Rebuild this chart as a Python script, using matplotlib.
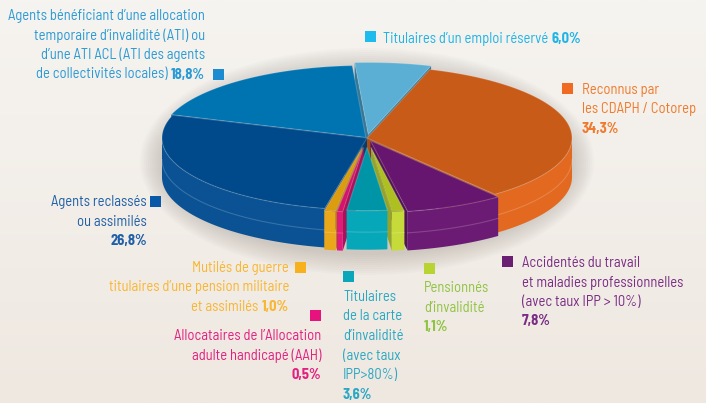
import numpy as np
import matplotlib
matplotlib.use('Agg')
import matplotlib.pyplot as plt
from matplotlib.patches import Polygon, Ellipse, Rectangle
from matplotlib.colors import LinearSegmentedColormap

plt.rcParams['font.family'] = ['Barlow Semi Condensed', 'Barlow Condensed', 'DejaVu Sans']

# data, in clockwise order starting from the top of the pie
categories = [
    "Titulaires d'un emploi réservé",
    "Reconnus par les CDAPH / Cotorep",
    "Accidentés du travail et maladies professionnelles",
    "Pensionnés d'invalidité",
    "Titulaires de la carte d'invalidité",
    "Allocataires de l'AAH",
    "Mutilés de guerre",
    "Agents reclassés ou assimilés",
    "Agents bénéficiant d'une ATI",
]
values = [6.0, 34.3, 7.8, 1.1, 3.6, 0.5, 1.0, 26.8, 18.8]
label_lines = [
    ["Titulaires d’un emploi réservé {p}"],
    ["Reconnus par", "les CDAPH / Cotorep", "{p}"],
    ["Accidentés du travail", "et maladies professionnelles",
     "(avec taux IPP > 10%)", "{p}"],
    ["Pensionnés", "d’invalidité", "{p}"],
    ["Titulaires", "de la carte", "d’invalidité", "(avec taux", "IPP>80%)", "{p}"],
    ["Allocataires de l’Allocation", "adulte handicapé (AAH)", "{p}"],
    ["Mutilés de guerre", "titulaires d’une pension militaire", "et assimilés {p}"],
    ["Agents reclassés", "ou assimilés", "{p}"],
    ["Agents bénéficiant d’une allocation", "temporaire d’invalidité (ATI) ou",
     "d’une ATI ACL (ATI des agents", "de collectivités locales) {p}"],
]
pct_labels = [f"{v:.1f}%".replace('.', ',') for v in values]

# styles
top_colors = ['#5bafd5', '#c95b18', '#67166f', '#aebf22', '#0095a6',
              '#d4136f', '#dc9c10', '#004a8c', '#0073b1']
side_colors = ['#4aa0c8', '#e2691f', '#6c1b74', '#c6da3a', '#06a7b8',
               '#e0197d', '#eaa71a', '#0a5294', '#0a69a6']
text_colors = ['#1eb4e6', '#f07a2c', '#7a2d84', '#8fc442', '#2aa8c2',
               '#e3207f', '#f9b630', '#1f5fa6', '#2a9ad5']
square_colors = ['#1ebbee', '#f06a22', '#6a1f72', '#b8d432', '#0aa6b9',
                 '#e6137f', '#f7b11c', '#0a58a8', '#1b8cd0']
explode = [0.05, 0.0, 0.04, 0.13, 0.13, 0.13, 0.13, 0.0, 0.01]
radius = [1.0, 1.0, 1.0, 0.9, 0.88, 0.9, 0.9, 1.0, 1.0]
# label anchor (x, y of first line), alignment, legend square top-left
label_pos = [(383, 39, 'left', 365, 31), (582, 90, 'left', 562, 83),
             (522, 263, 'left', 502, 256), (424, 288, 'left', 424, 263),
             (343, 297, 'left', 343, 271), (321, 336, 'right', 310, 310),
             (289, 268, 'right', 295, 262), (147, 202, 'right', 150, 196),
             (205, 16, 'right', 213, 69)]

W, H = 706, 403
fig = plt.figure(figsize=(W / 100, H / 100), dpi=100)
ax = fig.add_axes([0, 0, 1, 1])

bg = LinearSegmentedColormap.from_list('bg', ['#f6f4f0', '#efe8e1'])
ax.imshow(np.linspace(0, 1, 256)[:, None], extent=[0, W, H, 0], cmap=bg,
          aspect='auto', zorder=0)
ax.set_xlim(0, W)
ax.set_ylim(H, 0)
ax.axis('off')

cx, cy, a, b, depth = 367, 138, 205, 72, 39

# soft halo behind the pie
for s in np.linspace(22, 2, 11):
    ax.add_patch(Ellipse((cx, cy + depth / 2 + 4), 2 * (a + s), 2 * (b + s) + depth,
                         color='#8a8178', alpha=0.03, lw=0, zorder=1))

total = sum(values)
start = -90 + 360 * (sum(values[:4]) + values[4] / 2) / total
cum = np.concatenate([[0], np.cumsum(values)])
hi = start - 360 * cum[:-1] / total
lo = start - 360 * cum[1:] / total
mid = (hi + lo) / 2


def pt(r, t, ox, oy):
    tr = np.radians(t)
    return cx + ox + a * r * np.cos(tr), cy + oy - b * r * np.sin(tr)


order = np.argsort(-np.sin(np.radians(mid)))
z = 2
for i in order:
    ox = explode[i] * a * np.cos(np.radians(mid[i]))
    oy = -explode[i] * b * np.sin(np.radians(mid[i]))
    r = radius[i]
    ts = np.linspace(lo[i], hi[i], 500)
    xs, ys = pt(r, ts, ox, oy)
    ax_, ay_ = cx + ox, cy + oy
    # radial cut faces
    for t, vis in ((hi[i], np.cos(np.radians(hi[i])) < 0),
                   (lo[i], np.cos(np.radians(lo[i])) > 0)):
        if vis:
            px, py = pt(r, t, ox, oy)
            quad = [(ax_, ay_), (px, py), (px, py + depth), (ax_, ay_ + depth)]
            ax.add_patch(Polygon(quad, closed=True, fc=side_colors[i], ec='none',
                                 zorder=z))
            ax.add_patch(Polygon(quad, closed=True, fc='black', alpha=0.25,
                                 ec='none', zorder=z))
    # outer wall
    m = np.sin(np.radians(ts)) <= 1e-9
    if m.sum() > 1:
        wx, wy = xs[m], ys[m]
        wall = np.column_stack([np.concatenate([wx, wx[::-1]]),
                                np.concatenate([wy, wy[::-1] + depth])])
        ax.add_patch(Polygon(wall, closed=True, fc=side_colors[i], ec='none',
                             zorder=z + 0.1))
        ax.plot(wx, wy + depth * 0.55, color='white', alpha=0.18, lw=0.8,
                zorder=z + 0.15)
    # top face
    topp = np.column_stack([np.concatenate([[ax_], xs]),
                            np.concatenate([[ay_], ys])])
    ax.add_patch(Polygon(topp, closed=True, fc=top_colors[i],
                         ec=(1, 1, 1, 0.18), lw=0.8, zorder=z + 0.2))
    z += 1

# labels
renderer = fig.canvas.get_renderer()
line_gap = 19.5
for i in range(len(values)):
    x0, y0, ha, sx, sy = label_pos[i]
    ax.add_patch(Rectangle((sx, sy), 11, 11, fc=square_colors[i], ec='none',
                           zorder=50))
    for k, line in enumerate(label_lines[i]):
        y = y0 + k * line_gap
        parts = line.split('{p}')
        segs = []
        for j, p in enumerate(parts):
            if p.strip():
                segs.append((p.strip(), 'normal'))
            if j < len(parts) - 1:
                segs.append((pct_labels[i], 'bold'))
        cur = x0
        seq = segs if ha == 'left' else segs[::-1]
        for s, w in seq:
            t = ax.text(cur, y, s, ha=ha, va='center', fontsize=10.5,
                        fontweight=w, color=text_colors[i], zorder=60)
            wd = t.get_window_extent(renderer).width
            cur = cur + wd + 3.5 if ha == 'left' else cur - wd - 3.5

fig.savefig('out.png', dpi=100, facecolor='#f4f1ec')
